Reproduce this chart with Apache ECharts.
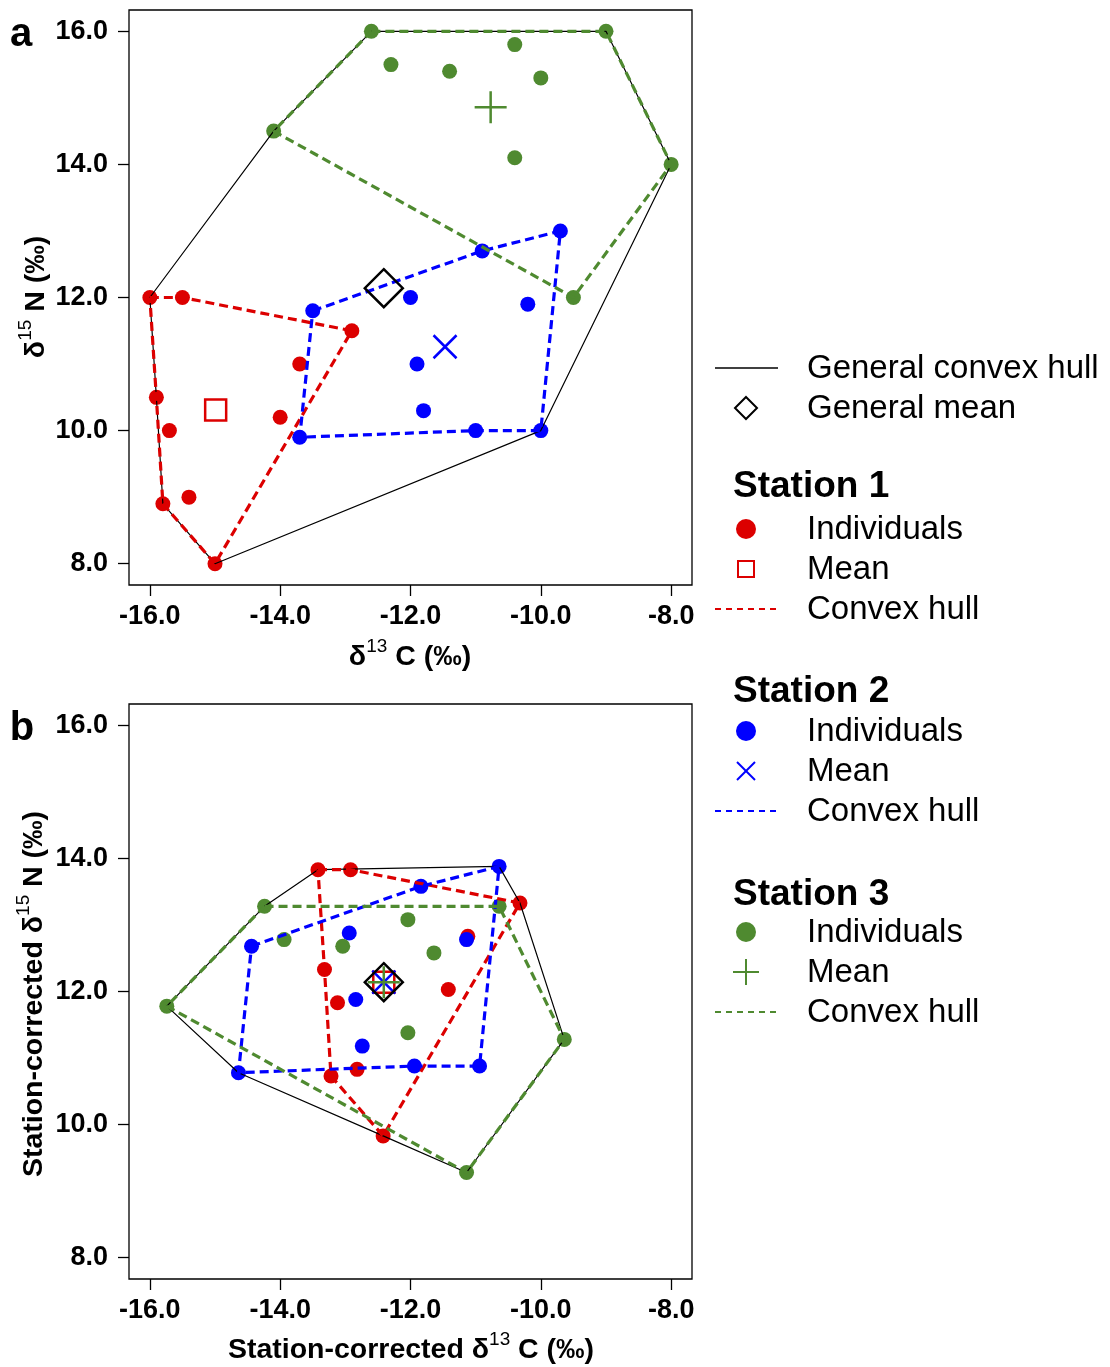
<!DOCTYPE html>
<html>
<head>
<meta charset="utf-8">
<script src="https://cdn.jsdelivr.net/npm/echarts@6/dist/echarts.min.js"></script>
<style>
html,body{margin:0;padding:0;background:#fff;}
#chart{width:1110px;height:1367px;}
</style>
</head>
<body>
<div id="chart"></div>
<script>
// ---------- DATA ----------
// Panel a: raw values
const s1C = [-16.0, -15.5, -12.9, -13.7, -15.9, -15.7, -14.0, -15.4, -15.8, -15.0];
const s1N = [12.0, 12.0, 11.5, 11.0, 10.5, 10.0, 10.2, 9.0, 8.9, 8.0];
const s2C = [-13.5, -12.0, -10.2, -11.9, -11.8, -13.7, -11.0, -10.0, -10.9, -9.7];
const s2N = [11.8, 12.0, 11.9, 11.0, 10.3, 9.9, 10.0, 10.0, 12.7, 13.0];
const s3C = [-12.6, -9.0, -10.4, -12.3, -11.4, -10.0, -10.4, -14.1, -8.0, -9.5];
const s3N = [16.0, 16.0, 15.8, 15.5, 15.4, 15.3, 14.1, 14.5, 14.0, 12.0];
// Panel a: means [C, N]
const meanA1 = [-14.99, 10.31];
const meanA2 = [-11.47, 11.26];
const meanA3 = [-10.77, 14.86];
const meanAGen = [-12.41, 12.14];

// Panel b: station-corrected values
const b1C = [-13.42, -12.92, -10.32, -11.12, -13.32, -13.12, -11.42, -12.82, -13.22, -12.42];
const b1N = [13.83, 13.83, 13.33, 12.83, 12.33, 11.83, 12.03, 10.83, 10.73, 9.83];
const b2C = [-14.44, -12.94, -11.14, -12.84, -12.74, -14.64, -11.94, -10.94, -11.84, -10.64];
const b2N = [12.68, 12.88, 12.78, 11.88, 11.18, 10.78, 10.88, 10.88, 13.58, 13.88];
const b3C = [-14.24, -10.64, -12.04, -13.94, -13.04, -11.64, -12.04, -15.74, -9.64, -11.14];
const b3N = [13.28, 13.28, 13.08, 12.78, 12.68, 12.58, 11.38, 11.78, 11.28, 9.28];
// Panel b: means (all coincide with the general mean)
const meanB1 = [-12.41, 12.14];
const meanB2 = [-12.41, 12.14];
const meanB3 = [-12.41, 12.14];
const meanBGen = [-12.41, 12.14];

// Convex hull vertex order (indices into each station's arrays)
const hull1 = [0, 1, 2, 9, 8, 4, 0];
const hull2 = [0, 8, 9, 7, 6, 5, 0];
const hull3 = [0, 1, 8, 9, 7, 0];
// General hull vertex order: [station, index]
const hullGenA = [[1,0],[3,7],[3,0],[3,1],[3,8],[2,7],[1,9],[1,8],[1,4],[1,0]];
const hullGenB = [[3,7],[3,0],[1,0],[2,9],[1,2],[3,8],[3,9],[1,9],[2,5],[3,7]];

// Tick labels
const xTicks = [-16, -14, -12, -10, -8];
const yTicks = [8, 10, 12, 14, 16];

// ---------- STYLE ----------
const RED = '#dc0000', BLUE = '#0000ff', GREEN = '#4f8a30';
const FONT = '"Liberation Sans", Arial, Helvetica, sans-serif';

function pts(C, N) { return C.map((c, i) => [c, N[i]]); }
function hullPts(C, N, idx) { return idx.map(i => [C[i], N[i]]); }
function genHull(sets, order) { return order.map(([s, i]) => [sets[s][0][i], sets[s][1][i]]); }

const PLUS = 'path://M5,0L5,10M0,5L10,5';
const CROSS = 'path://M0,0L10,10M10,0L0,10';

function panelSeries(p, S1, S2, S3, gen, means) {
  const base = { xAxisIndex: p, yAxisIndex: p, silent: true, animation: false };
  const dot = (S, col) => Object.assign({}, base, {
    type: 'scatter', data: pts(S[0], S[1]), symbol: 'circle', symbolSize: 15,
    itemStyle: { color: col, opacity: 1 }, z: 2
  });
  const line = (data, col, w, dash, z) => Object.assign({}, base, {
    type: 'line', data: data, symbol: 'none', showSymbol: false, z: z,
    lineStyle: { color: col, width: w, type: dash }
  });
  const mean = (d, sym, size, col, z) => Object.assign({}, base, {
    type: 'scatter', data: [d], symbol: sym, symbolSize: size, z: z,
    itemStyle: { color: 'rgba(0,0,0,0)', borderColor: col, borderWidth: 2.5, opacity: 1 }
  });
  const sets = { 1: S1, 2: S2, 3: S3 };
  return [
    dot(S1, RED), dot(S2, BLUE), dot(S3, GREEN),
    line(genHull(sets, gen), '#000', 1.2, 'solid', 3),
    line(hullPts(S1[0], S1[1], hull1), RED, 3.2, [9, 5], 4),
    line(hullPts(S2[0], S2[1], hull2), BLUE, 3.2, [9, 5], 4),
    line(hullPts(S3[0], S3[1], hull3), GREEN, 3.2, [9, 5], 4),
    mean(means[0], 'rect', 21, RED, 5),
    mean(means[1], CROSS, 23, BLUE, 5),
    mean(means[2], PLUS, 32, GREEN, 5),
    mean(means[3], 'diamond', 38, '#000', 6)
  ];
}

function xAx(g) {
  return {
    type: 'value', gridIndex: g, min: -16.32, max: -7.68,
    axisLine: { show: false },
    axisTick: { show: true, inside: false, length: 11, customValues: xTicks, lineStyle: { color: '#000', width: 1.3 } },
    axisLabel: { show: true, customValues: xTicks, margin: 18, color: '#000', fontSize: 27, fontWeight: 'bold', fontFamily: FONT,
      formatter: v => v.toFixed(1) },
    splitLine: { show: false }
  };
}
function yAx(g) {
  return {
    type: 'value', gridIndex: g, min: 7.68, max: 16.32,
    axisLine: { show: false },
    axisTick: { show: true, inside: false, length: 11, customValues: yTicks, lineStyle: { color: '#000', width: 1.3 } },
    axisLabel: { show: true, customValues: yTicks, margin: 21, color: '#000', fontSize: 27, fontWeight: 'bold', fontFamily: FONT,
      formatter: v => v.toFixed(1) },
    splitLine: { show: false }
  };
}

const richAx = {
  b: { fontSize: 28.5, fontWeight: 'bold', fontFamily: FONT, color: '#000', lineHeight: 40 },
  s: { fontSize: 19, fontWeight: 'normal', fontFamily: FONT, color: '#000', lineHeight: 16, verticalAlign: 'top' }
};
function axTitle(text, x, y, rot) {
  return {
    type: 'text', x: x, y: y, rotation: rot || 0, silent: true,
    style: { text: text, rich: richAx, align: 'center', verticalAlign: 'middle', x: 0, y: 0 }
  };
}

// Legend
const LX0 = 715, LX1 = 778, LSYM = 746, LTX = 807, LHX = 733;
function lgText(t, y) {
  return { type: 'text', x: LTX, y: y, silent: true,
    style: { text: t, fontSize: 33, fontFamily: FONT, fill: '#000', align: 'left', verticalAlign: 'middle' } };
}
function lgHead(t, y) {
  return { type: 'text', x: LHX, y: y, silent: true,
    style: { text: t, fontSize: 37, fontWeight: 'bold', fontFamily: FONT, fill: '#000', align: 'left', verticalAlign: 'middle' } };
}
function lgLine(y, col, dash, w) {
  return { type: 'line', silent: true, shape: { x1: LX0, y1: y, x2: LX1, y2: y },
    style: { stroke: col, lineWidth: w, lineDash: dash } };
}
function lgDot(y, col) {
  return { type: 'circle', silent: true, shape: { cx: LSYM, cy: y, r: 10 }, style: { fill: col } };
}
function lgGroupStation(y0, col, meanShape) {
  return [lgDot(y0, col), lgText('Individuals', y0 + 1), meanShape, lgText('Mean', y0 + 41),
    lgLine(y0 + 80, col, [6, 5], 2), lgText('Convex hull', y0 + 81)];
}

const graphics = [
  { type: 'text', x: 21, y: 35, silent: true, style: { text: 'a', fontSize: 40, fontWeight: 'bold', fontFamily: FONT, fill: '#000', align: 'center', verticalAlign: 'middle' } },
  { type: 'text', x: 22, y: 729, silent: true, style: { text: 'b', fontSize: 40, fontWeight: 'bold', fontFamily: FONT, fill: '#000', align: 'center', verticalAlign: 'middle' } },
  axTitle('{b|δ}{s|13}{b| C (‰)}', 410, 657),
  axTitle('{b|δ}{s|15}{b| N (‰)}', 36, 297, Math.PI / 2),
  axTitle('{b|Station-corrected δ}{s|13}{b| C (‰)}', 411, 1350),
  axTitle('{b|Station-corrected δ}{s|15}{b| N (‰)}', 34, 994, Math.PI / 2),
  // legend
  lgLine(368, '#000', null, 1.3), lgText('General convex hull', 369),
  { type: 'polygon', silent: true, shape: { points: [[LSYM, 397], [LSYM + 11, 408], [LSYM, 419], [LSYM - 11, 408]] }, style: { fill: 'none', stroke: '#000', lineWidth: 2 } },
  lgText('General mean', 409),
  lgHead('Station 1', 487),
  ...lgGroupStation(529, RED,
    { type: 'rect', silent: true, shape: { x: LSYM - 8, y: 569 - 8, width: 16, height: 16 }, style: { fill: 'none', stroke: RED, lineWidth: 2 } }),
  lgHead('Station 2', 692),
  ...lgGroupStation(731, BLUE,
    { type: 'group', silent: true, children: [
      { type: 'line', shape: { x1: LSYM - 9, y1: 762, x2: LSYM + 9, y2: 780 }, style: { stroke: BLUE, lineWidth: 2 } },
      { type: 'line', shape: { x1: LSYM + 9, y1: 762, x2: LSYM - 9, y2: 780 }, style: { stroke: BLUE, lineWidth: 2 } } ] }),
  lgHead('Station 3', 895),
  ...lgGroupStation(932, GREEN,
    { type: 'group', silent: true, children: [
      { type: 'line', shape: { x1: LSYM - 13, y1: 972, x2: LSYM + 13, y2: 972 }, style: { stroke: GREEN, lineWidth: 2 } },
      { type: 'line', shape: { x1: LSYM, y1: 959, x2: LSYM, y2: 985 }, style: { stroke: GREEN, lineWidth: 2 } } ] })
];

const chart = echarts.init(document.getElementById('chart'), null, { renderer: 'canvas' });
chart.setOption({
  animation: false,
  backgroundColor: '#fff',
  grid: [
    { left: 129, top: 10, width: 563, height: 575, show: true, borderColor: '#000', borderWidth: 1.3, backgroundColor: 'rgba(0,0,0,0)' },
    { left: 129, top: 704, width: 563, height: 575, show: true, borderColor: '#000', borderWidth: 1.3, backgroundColor: 'rgba(0,0,0,0)' }
  ],
  xAxis: [xAx(0), xAx(1)],
  yAxis: [yAx(0), yAx(1)],
  series: [
    ...panelSeries(0, [s1C, s1N], [s2C, s2N], [s3C, s3N], hullGenA, [meanA1, meanA2, meanA3, meanAGen]),
    ...panelSeries(1, [b1C, b1N], [b2C, b2N], [b3C, b3N], hullGenB, [meanB1, meanB2, meanB3, meanBGen])
  ],
  graphic: graphics
});
</script>
</body>
</html>
